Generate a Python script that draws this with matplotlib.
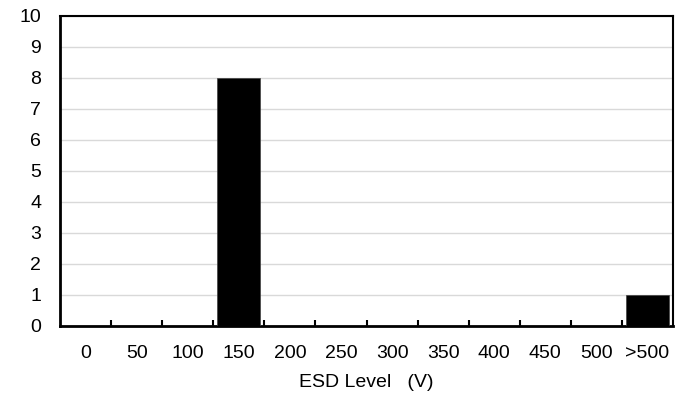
import numpy as np
import matplotlib.pyplot as plt

plt.rcParams['font.family'] = ['Liberation Sans', 'DejaVu Sans']

categories = ['0', '50', '100', '150', '200', '250', '300', '350', '400', '450', '500', '>500']
counts = [0, 0, 0, 8, 0, 0, 0, 0, 0, 0, 0, 1]

fig = plt.figure(figsize=(6.76, 3.94), dpi=100)
ax = fig.add_axes([0.0888, 0.1726, 0.9068, 0.7868])

x = np.arange(len(categories))
ax.bar(x, counts, width=0.84, color='black', edgecolor='#404040', linewidth=0.5, zorder=3)

ax.set_xlim(-0.5, len(categories) - 0.5)
ax.set_ylim(0, 10)
ax.set_yticks(range(0, 11))
ax.yaxis.grid(True, color='#d9d9d9', linewidth=1.0, zorder=0)
ax.tick_params(axis='y', length=0, pad=13.5, labelsize=14)

# category labels centered, tick marks on the boundaries
ax.set_xticks(x)
ax.set_xticklabels(categories)
ax.tick_params(axis='x', which='major', length=0, pad=13.5, labelsize=14)
ax.set_xticks(np.arange(0.5, len(categories) - 1, 1), minor=True)
ax.tick_params(axis='x', which='minor', direction='in', length=4, width=1.5, color='black')

for s in ax.spines.values():
    s.set_color('black')
    s.set_linewidth(1.5)
ax.spines['left'].set_linewidth(2)
ax.spines['bottom'].set_linewidth(2)

ax.set_xlabel('ESD Level   (V)', fontsize=14, labelpad=9)

fig.savefig('out.png', dpi=100)
